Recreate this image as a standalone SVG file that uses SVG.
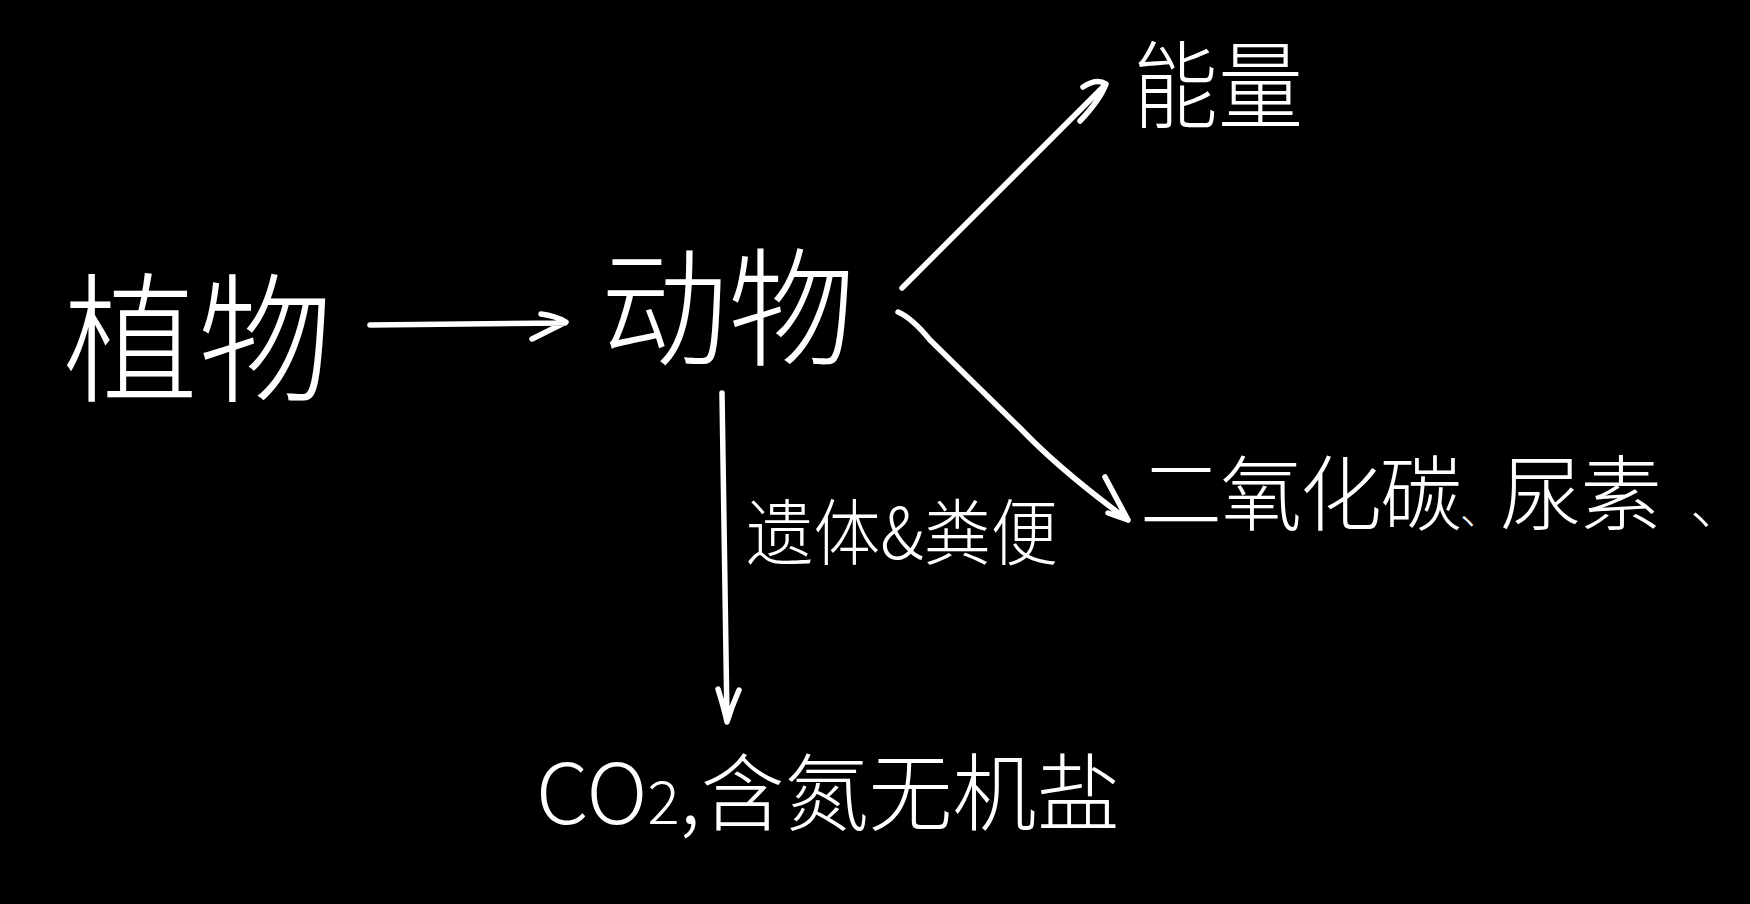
<svg xmlns="http://www.w3.org/2000/svg" width="1750" height="904" viewBox="0 0 1750 904">
<style>
.t{fill:#fff;font-family:"Noto Sans CJK SC","Noto Sans",sans-serif;font-weight:300}
.c{fill:none;stroke:#fff;stroke-width:5.5;stroke-linecap:round;stroke-linejoin:round}
</style>
<rect x="0" y="0" width="1750" height="904" fill="#000"/>
<g id="plant"><text class="t" x="198" y="391" font-size="140" text-anchor="middle" textLength="270" lengthAdjust="spacingAndGlyphs">植物</text></g>
<g id="animal"><text class="t" x="728" y="356" font-size="128" text-anchor="middle" textLength="255" lengthAdjust="spacingAndGlyphs">动物</text></g>
<g id="energy"><text class="t" x="1218" y="121" font-size="95" text-anchor="middle" textLength="170" lengthAdjust="spacingAndGlyphs">能量</text></g>
<g id="co2-urea"><text class="t" font-size="82" y="524"><tspan x="1140">二</tspan><tspan x="1220">氧</tspan><tspan x="1300">化</tspan><tspan x="1380">碳</tspan><tspan x="1460" font-size="40">、</tspan><tspan x="1500">尿</tspan><tspan x="1580">素</tspan><tspan x="1690" font-size="56">、</tspan></text></g>
<g id="remains-label"><text class="t" x="746" y="559" font-size="72" textLength="312" lengthAdjust="spacingAndGlyphs">遗体&amp;粪便</text></g>
<g id="inorganic"><text class="t" x="536" y="824" font-size="84">CO<tspan font-size="60">2</tspan>,含氮无机盐</text></g>
<g id="connectors">
<path class="c" d="M370 325 L565 323 M541 314 Q556 316 566 322 Q550 330 532 339"/>
<path class="c" d="M902 288 L1104 86 M1083 87 Q1097 78 1106 84 Q1100 100 1080 121"/>
<path class="c" d="M898 312 Q912 318 930 340 L1020 428 Q1060 470 1128 520 M1105 477 L1128 520 L1108 513"/>
<path class="c" d="M722 393 L727 720 M718 689 Q724 708 727 722 Q732 706 739 690"/>
</g>
</svg>
